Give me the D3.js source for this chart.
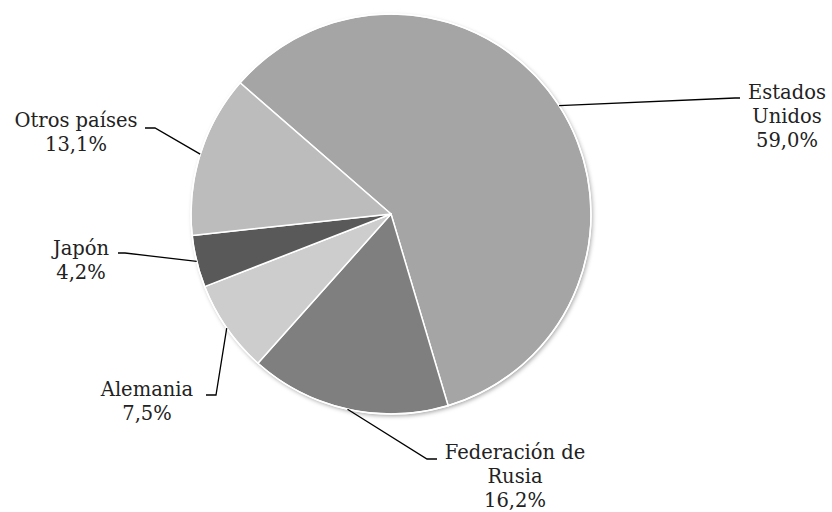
<!DOCTYPE html>
<html>
<head>
<meta charset="utf-8">
<script src="https://cdn.jsdelivr.net/npm/d3@7"></script>
<style>
  body { margin: 0; background: #fff; }
  text { font-family: "DejaVu Serif", serif; font-size: 19.5px; fill: #222; }
</style>
</head>
<body>
<script>
const countries = ['Estados Unidos', 'Federación de Rusia', 'Alemania', 'Japón', 'Otros países'],
  shares = [59.0, 16.2, 7.5, 4.2, 13.1],
  shareLabels = ['59,0%', '16,2%', '7,5%', '4,2%', '13,1%'];

const colors = ['#a5a5a5', '#7f7f7f', '#cdcdcd', '#595959', '#bcbcbc'],
  width = 832,
  height = 512,
  cx = 391,
  cy = 214,
  radius = 200,
  startAngle = -49 * Math.PI / 180;

// where each label sits: text lines, centre x, first baseline, leader bend points
const labelLayout = [
  { lines: ['Estados', 'Unidos'], x: 787, y: 99, path: [[735, 98], [740, 98]] },
  { lines: ['Federación de', 'Rusia'], x: 515, y: 459, path: [[427, 459], [437, 459]] },
  { lines: ['Alemania'], x: 147, y: 396, path: [[216, 395], [206, 395]] },
  { lines: ['Japón'], x: 81, y: 255, path: [[125, 253], [118, 253]] },
  { lines: ['Otros países'], x: 76, y: 127, path: [[155, 128], [145, 128]] }
];

const svg = d3.select('body')
  .append('svg')
  .attr('width', width)
  .attr('height', height);

const filter = svg.append('defs')
  .append('filter')
  .attr('id', 'shadow')
  .attr('x', '-10%').attr('y', '-10%')
  .attr('width', '120%').attr('height', '120%');

filter.append('feDropShadow')
  .attr('dx', 1.5)
  .attr('dy', 2)
  .attr('stdDeviation', 2)
  .attr('flood-color', '#000')
  .attr('flood-opacity', 0.35);

const pie = d3.pie()
  .sort(null)
  .value(d => d)
  .startAngle(startAngle)
  .endAngle(startAngle + 2 * Math.PI);

const arcs = pie(shares);

const arc = d3.arc()
  .innerRadius(0)
  .outerRadius(radius);

const chart = svg.append('g')
  .attr('transform', `translate(${cx},${cy})`);

chart.append('circle')
  .attr('r', radius)
  .attr('fill', '#fff')
  .attr('filter', 'url(#shadow)');

chart.selectAll('path.slice')
  .data(arcs)
  .enter().append('path')
  .attr('class', 'slice')
  .attr('d', arc)
  .attr('fill', (d, i) => colors[i])
  .attr('stroke', '#fff')
  .attr('stroke-width', 1.5)
  .attr('stroke-linejoin', 'round');

chart.append('circle')
  .attr('r', radius)
  .attr('fill', 'none')
  .attr('stroke', '#fff')
  .attr('stroke-width', 1.5);

const line = d3.line();

svg.append('g')
  .selectAll('path')
  .data(arcs)
  .enter().append('path')
  .attr('d', (d, i) => {
    const mid = (d.startAngle + d.endAngle) / 2;
    const start = [cx + radius * Math.sin(mid), cy - radius * Math.cos(mid)];
    return line([start].concat(labelLayout[i].path));
  })
  .attr('fill', 'none')
  .attr('stroke', '#000')
  .attr('stroke-width', 1.3);

const labels = svg.append('g')
  .selectAll('text')
  .data(countries)
  .enter().append('text')
  .attr('text-anchor', 'middle')
  .attr('x', (d, i) => labelLayout[i].x)
  .attr('y', (d, i) => labelLayout[i].y);

labels.each(function (d, i) {
  const t = d3.select(this);
  labelLayout[i].lines.concat([shareLabels[i]]).forEach((s, j) => {
    t.append('tspan')
      .attr('x', labelLayout[i].x)
      .attr('dy', j === 0 ? 0 : 24)
      .text(s);
  });
});
</script>
</body>
</html>
